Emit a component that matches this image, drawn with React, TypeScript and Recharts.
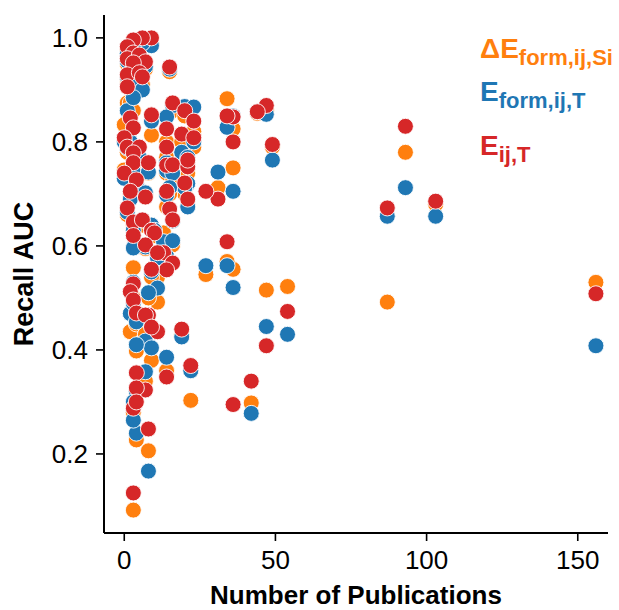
import React from "react";
import { ScatterChart, Scatter, XAxis, YAxis } from "recharts";

// one entry per material pair: number of publications + recall AUC for each descriptor
const publications = [
  156, 103, 93, 87, 54, 49, 47, 47, 44, 42, 36, 36, 36, 34, 34, 31, 27, 22, 19,
  16, 20, 23, 14, 19, 23, 14, 14, 16, 21, 21, 20, 15, 14, 21, 16, 13, 16, 14,
  9, 6, 3, 1, 3, 1, 5, 7, 3, 1, 5, 1, 6, 2, 3, 15, 9, 0, 1, 5, 3, 3, 0, 8, 4,
  7, 2, 1, 3, 6, 9, 10, 7, 3, 11, 9, 11, 3, 2, 3, 8, 4, 7, 9, 14, 4, 7, 4, 3,
  4, 3, 8,
];

const formSi = [
  0.53, 0.68, 0.78, 0.492, 0.522, 0.79, 0.515, 0.86, 0.855, 0.298, 0.555, 0.825,
  0.75, 0.57, 0.883, 0.712, 0.545, 0.303, 0.43, 0.86, 0.85, 0.82, 0.8, 0.8,
  0.79, 0.77, 0.74, 0.73, 0.74, 0.76, 0.7, 0.7, 0.675, 0.678, 0.606, 0.625,
  0.602, 0.57, 0.99, 0.995, 0.99, 0.975, 0.96, 0.95, 0.955, 0.94, 0.94, 0.92,
  0.91, 0.875, 0.91, 0.875, 0.86, 0.935, 0.813, 0.833, 0.78, 0.76, 0.75, 0.745,
  0.746, 0.74, 0.71, 0.7, 0.694, 0.66, 0.64, 0.64, 0.63, 0.62, 0.595, 0.558,
  0.54, 0.54, 0.492, 0.5, 0.435, 0.48, 0.5, 0.45, 0.43, 0.38, 0.36, 0.398,
  0.34, 0.3, 0.28, 0.227, 0.092, 0.206,
];

const formT = [
  0.408, 0.657, 0.712, 0.657, 0.43, 0.765, 0.445, 0.853, 0.858, 0.278, 0.52,
  0.85, 0.705, 0.562, 0.828, 0.742, 0.562, 0.36, 0.425, 0.87, 0.868, 0.867,
  0.848, 0.78, 0.8, 0.76, 0.745, 0.74, 0.72, 0.77, 0.712, 0.712, 0.698, 0.675,
  0.648, 0.608, 0.61, 0.58, 0.985, 0.99, 0.985, 0.97, 0.965, 0.955, 0.96,
  0.945, 0.945, 0.925, 0.92, 0.86, 0.9, 0.8, 0.885, 0.94, 0.84, 0.8, 0.788,
  0.77, 0.76, 0.742, 0.73, 0.742, 0.72, 0.702, 0.69, 0.665, 0.63, 0.65, 0.64,
  0.63, 0.598, 0.596, 0.577, 0.55, 0.519, 0.53, 0.47, 0.49, 0.51, 0.454, 0.417,
  0.404, 0.386, 0.41, 0.358, 0.32, 0.3, 0.24, 0.265, 0.167,
];

const ijT = [
  0.508, 0.686, 0.83, 0.673, 0.474, 0.795, 0.408, 0.87, 0.858, 0.34, 0.295,
  0.848, 0.8, 0.608, 0.85, 0.69, 0.705, 0.37, 0.44, 0.875, 0.86, 0.84, 0.825,
  0.815, 0.808, 0.79, 0.755, 0.756, 0.752, 0.765, 0.721, 0.671, 0.705, 0.69,
  0.65, 0.587, 0.567, 0.554, 1.0, 1.0, 0.996, 0.983, 0.971, 0.96, 0.967, 0.954,
  0.952, 0.929, 0.933, 0.906, 0.925, 0.846, 0.827, 0.944, 0.852, 0.808, 0.79,
  0.79, 0.779, 0.76, 0.74, 0.76, 0.727, 0.694, 0.705, 0.673, 0.646, 0.65, 0.63,
  0.625, 0.602, 0.62, 0.587, 0.555, 0.435, 0.527, 0.512, 0.496, 0.467, 0.471,
  0.467, 0.444, 0.348, 0.356, 0.323, 0.327, 0.288, 0.3, 0.125, 0.248,
];

const xTicks = [0, 50, 100, 150];
const yTicks = [0.2, 0.4, 0.6, 0.8, 1.0];

const ORANGE = "#ff7f0e";
const BLUE = "#1f77b4";
const RED = "#d62728";
const FONT = "'Liberation Sans', Arial, sans-serif";

const toPoints = (values: number[]) =>
  publications.map((x, i) => ({ x, y: values[i] }));

const dot = (color: string) => (props: any) =>
  (
    <circle
      cx={props.cx}
      cy={props.cy}
      r={8}
      fill={color}
      stroke="#fff"
      strokeWidth={0.9}
    />
  );

const tickStyle = { fontSize: 26, fill: "#000", fontFamily: FONT };

const legendRow = (left: number, top: number, color: string, main: string, sub: string) => (
  <div
    style={{
      position: "absolute",
      left,
      top,
      color,
      fontFamily: FONT,
      fontWeight: "bold",
      fontSize: 28,
      whiteSpace: "nowrap",
      lineHeight: 1,
    }}
  >
    {main}
    <sub style={{ fontSize: 22, verticalAlign: -7 }}>{sub}</sub>
  </div>
);

export default function App() {
  return (
    <div
      style={{
        position: "fixed",
        left: 0,
        top: 0,
        width: 619,
        height: 610,
        background: "#fff",
      }}
    >
      <ScatterChart
        width={619}
        height={610}
        margin={{ top: 15, right: 11, bottom: 0, left: 0 }}
      >
        <XAxis
          type="number"
          dataKey="x"
          domain={[-6.7, 160]}
          ticks={xTicks}
          allowDataOverflow
          height={77}
          tickSize={8}
          tickMargin={10}
          tick={tickStyle}
          axisLine={{ stroke: "#000", strokeWidth: 2 }}
          tickLine={{ stroke: "#000", strokeWidth: 1.6 }}
          label={() => (
            <text
              x={356}
              y={604}
              textAnchor="middle"
              fontFamily={FONT}
              fontWeight="bold"
              fontSize={26}
              fill="#000"
            >
              Number of Publications
            </text>
          )}
        />
        <XAxis
          xAxisId="top"
          orientation="top"
          type="number"
          domain={[-6.7, 160]}
          height={0}
          tick={false}
          tickLine={false}
          axisLine={{ stroke: "#000", strokeWidth: 2 }}
        />
        <YAxis
          type="number"
          dataKey="y"
          domain={[0.048, 1.044]}
          ticks={yTicks}
          allowDataOverflow
          width={104}
          tickSize={8}
          tickMargin={8}
          tick={tickStyle}
          tickFormatter={(v: number) => v.toFixed(1)}
          axisLine={{ stroke: "#000", strokeWidth: 2 }}
          tickLine={{ stroke: "#000", strokeWidth: 1.6 }}
          label={() => (
            <text
              x={33}
              y={274}
              transform="rotate(-90, 33, 274)"
              textAnchor="middle"
              fontFamily={FONT}
              fontWeight="bold"
              fontSize={27}
              fill="#000"
            >
              Recall AUC
            </text>
          )}
        />
        <YAxis
          yAxisId="right"
          orientation="right"
          type="number"
          domain={[0.048, 1.044]}
          width={0}
          tick={false}
          tickLine={false}
          axisLine={{ stroke: "#000", strokeWidth: 2 }}
        />
        <Scatter
          data={toPoints(formSi)}
          shape={dot(ORANGE)}
          isAnimationActive={false}
        />
        <Scatter
          data={toPoints(formT)}
          shape={dot(BLUE)}
          isAnimationActive={false}
        />
        <Scatter
          data={toPoints(ijT)}
          shape={dot(RED)}
          isAnimationActive={false}
        />
      </ScatterChart>
      {legendRow(480, 35, ORANGE, "ΔE", "form,ij,Si")}
      {legendRow(480, 78, BLUE, "E", "form,ij,T")}
      {legendRow(480, 132, RED, "E", "ij,T")}
    </div>
  );
}
